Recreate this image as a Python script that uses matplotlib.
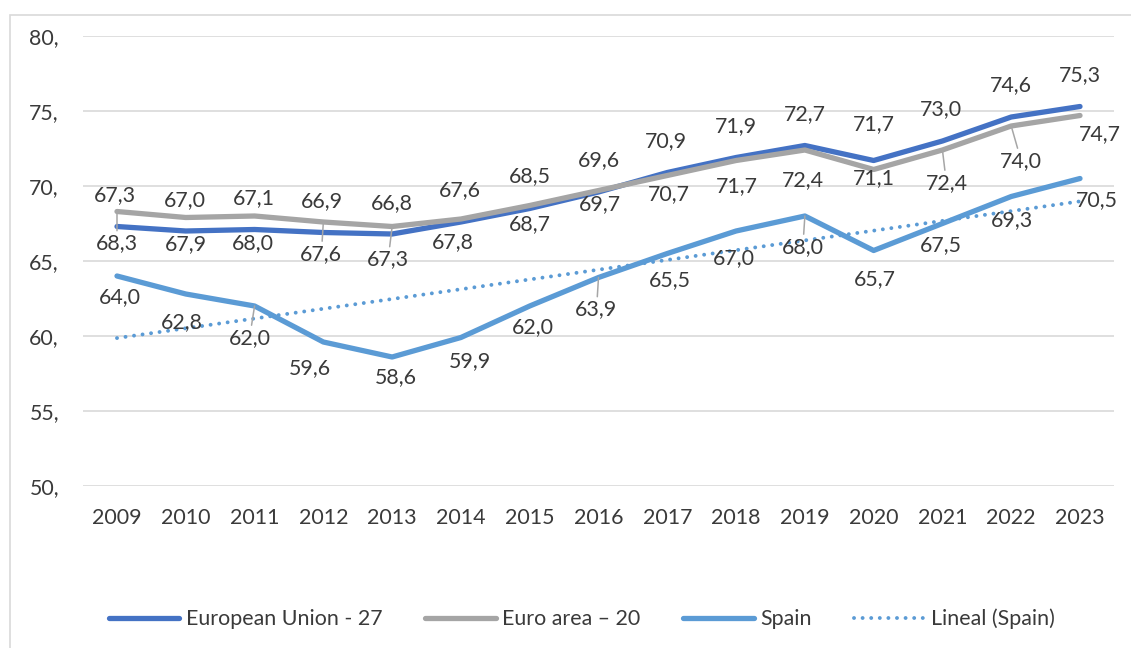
import matplotlib
matplotlib.use("Agg")
import matplotlib.pyplot as plt
import numpy as np
from matplotlib.ticker import FuncFormatter
from matplotlib.patches import Rectangle

years = ["2009", "2010", "2011", "2012", "2013", "2014", "2015", "2016",
         "2017", "2018", "2019", "2020", "2021", "2022", "2023"]
eu27 = [67.3, 67.0, 67.1, 66.9, 66.8, 67.6, 68.5, 69.6, 70.9, 71.9, 72.7, 71.7, 73.0, 74.6, 75.3]
euro20 = [68.3, 67.9, 68.0, 67.6, 67.3, 67.8, 68.7, 69.7, 70.7, 71.7, 72.4, 71.1, 72.4, 74.0, 74.7]
spain = [64.0, 62.8, 62.0, 59.6, 58.6, 59.9, 62.0, 63.9, 65.5, 67.0, 68.0, 65.7, 67.5, 69.3, 70.5]

# label offsets in pixels (dx, dy), as the labels were moved by hand in the original
eu_off = [(-2, 31), (-1, 31), (-1, 31), (-1, 31), (0, 31), (-1, 32), (0, 32), (0, 32),
          (-1, 31), (0, 31), (0, 31), (0, 36), (-1, 32), (0, 32), (0, 31)]
euro_off = [(0, -32), (0, -27), (-2, -27), (-2, -32), (-4, -33), (-8, -23), (0, -19), (1, -14),
            (2, -19), (1, -26), (-2, -30), (0, -9), (4, -33), (10, -35), (20, -19)]
spain_off = [(3, -21), (-4, -28), (-5, -32), (-13, -26), (4, -20), (9, -24), (3, -21), (-2, -32),
             (3, -27), (-2, -27), (-2, -31), (1, -29), (-2, -22), (1, -24), (17, -22)]
euro_leader = [0, 3, 4, 12, 13]
spain_leader = [2, 7, 10]

c_eu = "#4472C4"
c_euro = "#A5A5A5"
c_spain = "#5B9BD5"
c_text = "#3A3A3A"

plt.rcParams['font.family'] = ['Lato', 'DejaVu Sans']
fs = 15.4

fig = plt.figure(figsize=(11.31, 6.48), dpi=100)
ax = fig.add_axes([82.6 / 1131, 1 - 486 / 648, (1114.4 - 82.6) / 1131, 450 / 648])

x = np.arange(len(years))
ax.plot(x, eu27, color=c_eu, lw=3.8, solid_capstyle='round', solid_joinstyle='round',
        label="European Union - 27", zorder=3)
ax.plot(x, euro20, color=c_euro, lw=3.8, solid_capstyle='round', solid_joinstyle='round',
        label="Euro area \u2013 20", zorder=4)
ax.plot(x, spain, color=c_spain, lw=3.8, solid_capstyle='round', solid_joinstyle='round',
        label="Spain", zorder=5)
k, b = np.polyfit(x, spain, 1)
ax.plot(x, k * x + b, color=c_spain, lw=2.8, linestyle=(0, (0.01, 2.2)),
        dash_capstyle='round', label="Lineal (Spain)", zorder=6)


def put_labels(vals, offs, leaders):
    for i, v in enumerate(vals):
        dx, dy = offs[i]
        props = None
        if i in leaders:
            props = dict(arrowstyle='-', color="#A6A6A6", lw=1.1, shrinkA=0, shrinkB=0)
        ax.annotate(f"{v:.1f}".replace(".", ","), xy=(x[i], v), xytext=(dx, dy),
                    textcoords='offset pixels', ha='center', va='center',
                    fontsize=fs, color=c_text, arrowprops=props, zorder=10)


put_labels(eu27, eu_off, [])
put_labels(euro20, euro_off, euro_leader)
put_labels(spain, spain_off, spain_leader)

ax.set_xlim(-0.5, len(years) - 0.5)
ax.set_ylim(50, 80)
ax.set_yticks(range(50, 81, 5))
ax.yaxis.set_major_formatter(FuncFormatter(lambda v, p: f"{int(v)},"))
ax.set_xticks(x)
ax.set_xticklabels(years)
ax.tick_params(axis='y', length=0, pad=17, labelsize=fs, labelcolor=c_text)
ax.tick_params(axis='x', length=0, pad=16, labelsize=fs, labelcolor=c_text)
ax.grid(axis='y', color="#D9D9D9", lw=1.2)
ax.set_axisbelow(True)
for s in ax.spines.values():
    s.set_visible(False)

fig.legend(loc='center', bbox_to_anchor=(582 / 1131, 1 - 619 / 648), ncol=4, frameon=False,
           fontsize=fs, handlelength=3.3, handletextpad=0.3, columnspacing=2.0,
           labelcolor=c_text)

fig.patches.append(Rectangle((10 / 1131, -0.1), 1.2, 1.1 - 15 / 648, transform=fig.transFigure,
                             fill=False, edgecolor="#D9D9D9", lw=1.2))

fig.savefig("out.png", dpi=100)
